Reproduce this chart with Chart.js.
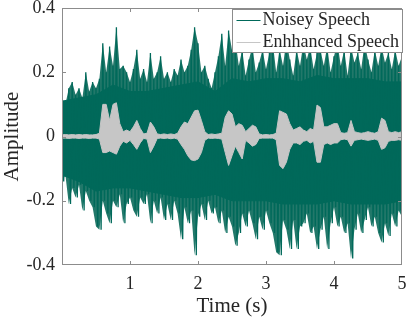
<!DOCTYPE html>
<html>
<head>
<meta charset="utf-8">
<script src="https://cdn.jsdelivr.net/npm/chart.js@4.4.0/dist/chart.umd.min.js"></script>
<style>
html, body { margin: 0; padding: 0; background: #fff; }
#chart { width: 407px; height: 321px; }
</style>
</head>
<body>
<div id="chart"><canvas id="myChart"></canvas></div>
<script>
// time bins (s), one max/min pair per bin
const times = [0.00,0.05,0.10,0.15,0.20,0.25,0.30,0.35,0.40,0.45,0.50,0.55,0.60,0.65,0.70,0.75,0.80,0.85,0.90,0.95,
  1.00,1.05,1.10,1.15,1.20,1.25,1.30,1.35,1.40,1.45,1.50,1.55,1.60,1.65,1.70,1.75,1.80,1.85,1.90,1.95,
  2.00,2.05,2.10,2.15,2.20,2.25,2.30,2.35,2.40,2.45,2.50,2.55,2.60,2.65,2.70,2.75,2.80,2.85,2.90,2.95,
  3.00,3.05,3.10,3.15,3.20,3.25,3.30,3.35,3.40,3.45,3.50,3.55,3.60,3.65,3.70,3.75,3.80,3.85,3.90,3.95,
  4.00,4.05,4.10,4.15,4.20,4.25,4.30,4.35,4.40,4.45,4.50,4.55,4.60,4.65,4.70,4.75,4.80,4.85,4.90,4.95,5.00];

// peaks of the noisy speech
const noisyUpper = [0.12,0.10,0.15,0.17,0.13,0.15,0.12,0.20,0.14,0.17,0.15,0.18,0.29,0.20,0.28,0.22,0.34,0.21,0.22,0.20,0.17,0.21,0.27,0.18,0.21,0.17,
  0.26,0.18,0.20,0.25,0.18,0.20,0.17,0.21,0.19,0.24,0.20,0.22,0.27,0.34,0.29,0.20,0.22,0.18,0.15,0.20,0.25,0.32,0.22,0.33,0.27,
  0.30,0.22,0.27,0.19,0.24,0.28,0.20,0.23,0.27,0.21,0.26,0.29,0.20,0.27,0.22,0.30,0.24,0.19,0.27,0.22,0.29,0.24,0.28,0.21,0.26,
  0.27,0.22,0.28,0.20,0.25,0.29,0.22,0.27,0.19,0.28,0.23,0.26,0.21,0.29,0.24,0.20,0.27,0.22,0.28,0.23,0.26,0.21,0.27,0.22,0.25];

const noisyLower = [-0.14,-0.12,-0.21,-0.16,-0.19,-0.15,-0.23,-0.17,-0.20,-0.22,-0.28,-0.29,-0.20,-0.24,-0.27,-0.20,-0.22,-0.18,-0.27,-0.21,-0.19,-0.23,-0.25,-0.19,-0.21,-0.18,
  -0.27,-0.20,-0.24,-0.19,-0.26,-0.21,-0.26,-0.20,-0.24,-0.32,-0.22,-0.27,-0.23,-0.37,-0.25,-0.21,-0.26,-0.20,-0.24,-0.22,-0.27,-0.23,-0.30,-0.25,-0.28,
  -0.34,-0.30,-0.24,-0.28,-0.23,-0.27,-0.32,-0.25,-0.29,-0.23,-0.27,-0.30,-0.36,-0.37,-0.26,-0.29,-0.35,-0.26,-0.35,-0.28,-0.27,-0.24,-0.30,-0.28,-0.35,
  -0.29,-0.25,-0.35,-0.27,-0.22,-0.28,-0.25,-0.30,-0.27,-0.38,-0.29,-0.24,-0.30,-0.26,-0.22,-0.28,-0.25,-0.30,-0.33,-0.27,-0.31,-0.24,-0.28,-0.23,-0.25];

// edge of the solid dark band of the noisy speech
const coreTimes = [0, 0.25, 0.5, 0.75, 1.0, 1.25, 1.5, 1.75, 2.0, 2.25, 2.5, 2.75, 3.0, 3.25, 3.5, 3.75, 4.0, 4.25, 4.5, 4.75, 5.0];
const coreUpper = [0.11, 0.12, 0.13, 0.16, 0.14, 0.14, 0.15, 0.16, 0.17, 0.14, 0.18, 0.17, 0.18, 0.18, 0.17, 0.19, 0.18, 0.18, 0.18, 0.17, 0.17];
const coreLower = [-0.12, -0.14, -0.17, -0.16, -0.16, -0.17, -0.18, -0.19, -0.19, -0.18, -0.2, -0.2, -0.2, -0.21, -0.21, -0.21, -0.2, -0.21, -0.21, -0.21, -0.2];

const enhancedUpper = [0.005,0.006,0.005,0.006,0.005,0.006,0.005,0.006,0.005,0.005,0.006,0.01,0.10,0.10,0.05,0.10,0.105,0.04,0.015,0.02,0.015,0.03,0.05,0.025,0.008,0.01,
  0.045,0.03,0.008,0.006,0.008,0.006,0.008,0.006,0.01,0.03,0.045,0.04,0.06,0.08,0.082,0.05,0.015,0.006,0.008,0.006,0.008,0.01,0.06,0.08,0.07,
  0.03,0.04,0.035,0.015,0.025,0.035,0.03,0.008,0.005,0.006,0.005,0.006,0.01,0.08,0.075,0.07,0.04,0.02,0.025,0.03,0.02,0.015,0.025,0.02,0.098,
  0.09,0.03,0.03,0.035,0.04,0.04,0.012,0.01,0.012,0.05,0.015,0.012,0.01,0.012,0.015,0.012,0.01,0.015,0.057,0.05,0.015,0.012,0.015,0.012,0.015];

const enhancedLower = [-0.005,-0.005,-0.006,-0.005,-0.005,-0.006,-0.005,-0.005,-0.006,-0.005,-0.005,-0.008,-0.05,-0.05,-0.045,-0.05,-0.055,-0.03,-0.015,-0.02,-0.012,-0.025,-0.04,-0.02,-0.006,-0.008,
  -0.05,-0.03,-0.006,-0.005,-0.006,-0.005,-0.007,-0.005,-0.008,-0.025,-0.04,-0.06,-0.073,-0.075,-0.07,-0.05,-0.012,-0.005,-0.006,-0.005,-0.006,-0.008,-0.05,-0.09,-0.06,
  -0.03,-0.05,-0.07,-0.012,-0.02,-0.03,-0.025,-0.006,-0.005,-0.005,-0.005,-0.005,-0.01,-0.09,-0.1,-0.08,-0.04,-0.02,-0.02,-0.025,-0.015,-0.012,-0.02,-0.015,-0.08,
  -0.08,-0.025,-0.02,-0.025,-0.02,-0.02,-0.01,-0.008,-0.01,-0.03,-0.012,-0.01,-0.008,-0.01,-0.012,-0.01,-0.008,-0.012,-0.04,-0.035,-0.015,-0.012,-0.012,-0.01,-0.012];

const xTicks = [0, 1, 2, 3, 4, 5];
const yTicks = [-0.4, -0.2, 0, 0.2, 0.4];
const seriesNames = ['Noisey Speech', 'Enhhanced Speech'];

const noisyColor = '#00695a';
const noisyTipColor = '#22786a';
const enhancedColor = '#c6c6c6';
const axisColor = '#8c8c8c';
const textColor = '#262626';

Chart.defaults.font.family = 'Liberation Serif';
Chart.defaults.color = textColor;

function points(xs, vals){
    return xs.map((t, i) => ({x: t, y: vals[i]}));
}

// waveform: each bin goes up to its max, then down to its min half a bin later
function wave(hi, lo){
    return times.flatMap((t, i) => [{x: t, y: hi[i]}, {x: t + 0.025, y: lo[i]}]);
}

// envelope line; the upper one fills down to the lower one (next dataset)
function envelope(label, xs, vals, color, order, isUpper, width){
    return {
        label: label,
        data: points(xs, vals),
        borderColor: color,
        backgroundColor: color,
        borderWidth: width,
        pointRadius: 0,
        tension: 0,
        fill: isUpper ? '+1' : false,
        order: order
    };
}

// box, inner tick marks and legend drawn over the data, MATLAB style
const frame = {
    id: 'frame',
    afterDatasetsDraw(chart){
        const {ctx, chartArea: a, scales} = chart;
        ctx.save();
        ctx.strokeStyle = axisColor;
        ctx.lineWidth = 1;
        ctx.strokeRect(a.left + 0.5, a.top + 0.5, a.width - 1, a.height - 1);
        ctx.beginPath();
        xTicks.slice(1, -1).forEach(v => {
            const px = Math.round(scales.x.getPixelForValue(v)) + 0.5;
            ctx.moveTo(px, a.bottom); ctx.lineTo(px, a.bottom - 4);
            ctx.moveTo(px, a.top); ctx.lineTo(px, a.top + 4);
        });
        yTicks.slice(1, -1).forEach(v => {
            const py = Math.round(scales.y.getPixelForValue(v)) + 0.5;
            ctx.moveTo(a.left, py); ctx.lineTo(a.left + 4, py);
            ctx.moveTo(a.right, py); ctx.lineTo(a.right - 4, py);
        });
        ctx.stroke();

        const bw = 170, bh = 43;
        const bx = a.right - bw + 0.5, by = a.top + 1.5;
        ctx.fillStyle = '#fff';
        ctx.fillRect(bx, by, bw, bh);
        ctx.strokeStyle = axisColor;
        ctx.strokeRect(bx, by, bw, bh);
        const colors = [noisyColor, enhancedColor];
        ctx.font = '18px "Liberation Serif"';
        ctx.textBaseline = 'middle';
        seriesNames.forEach((name, i) => {
            const cy = by + 11 + i * 22;
            ctx.strokeStyle = colors[i];
            ctx.beginPath();
            ctx.moveTo(bx + 4, cy); ctx.lineTo(bx + 28, cy);
            ctx.stroke();
            ctx.fillStyle = textColor;
            ctx.fillText(name, bx + 30, cy);
        });
        ctx.restore();
    }
};

new Chart('myChart', {
    type: 'line',
    data: {
        datasets: [{
            label: seriesNames[0],
            data: wave(noisyUpper, noisyLower),
            borderColor: noisyColor,
            borderWidth: 1.3,
            pointRadius: 0,
            tension: 0,
            fill: false,
            order: 2
        },
            envelope('noisy core', coreTimes, coreUpper, noisyColor, 2, true, 1),
            envelope('noisy core lower', coreTimes, coreLower, noisyColor, 2, false, 1),
            envelope('noisy peaks', times, noisyUpper, noisyTipColor, 3, true, 0),
            envelope('noisy peaks lower', times, noisyLower, noisyTipColor, 3, false, 0),
            envelope(seriesNames[1], times, enhancedUpper, enhancedColor, 1, true, 1),
            envelope('enhanced lower', times, enhancedLower, enhancedColor, 1, false, 1)
        ]
    },
    options: {
        responsive: true,
        maintainAspectRatio: false,
        animation: false,
        layout: {
            padding: {left: 0, right: 5, top: 8, bottom: 0}
        },
        scales: {
            x: {
                type: 'linear',
                min: 0,
                max: 5,
                offset: false,
                afterBuildTicks: s => { s.ticks = xTicks.map(v => ({value: v})); },
                afterFit: s => { s.height = 56; s.paddingLeft = 0; s.paddingRight = 0; },
                ticks: {
                    font: {size: 18},
                    color: textColor,
                    padding: 8,
                    maxRotation: 0,
                    callback: v => v === 0 ? '' : String(v)
                },
                grid: {display: false, drawTicks: false},
                border: {display: false},
                title: {
                    display: true,
                    text: 'Time (s)',
                    font: {size: 21},
                    color: textColor,
                    padding: {top: 0, bottom: 2}
                }
            },
            y: {
                min: -0.4,
                max: 0.4,
                afterBuildTicks: s => { s.ticks = yTicks.map(v => ({value: v})); },
                afterFit: s => { s.width = 62; s.paddingTop = 0; s.paddingBottom = 0; },
                ticks: {
                    font: {size: 18},
                    color: textColor,
                    padding: 7,
                    callback: v => v === 0 ? '0' : v.toFixed(1)
                },
                grid: {display: false, drawTicks: false},
                border: {display: false},
                title: {
                    display: true,
                    text: 'Amplitude',
                    font: {size: 21},
                    color: textColor,
                    padding: {top: 0, bottom: 0}
                }
            }
        },
        plugins: {
            legend: {display: false},
            tooltip: {enabled: false}
        }
    },
    plugins: [frame]
});
</script>
</body>
</html>
